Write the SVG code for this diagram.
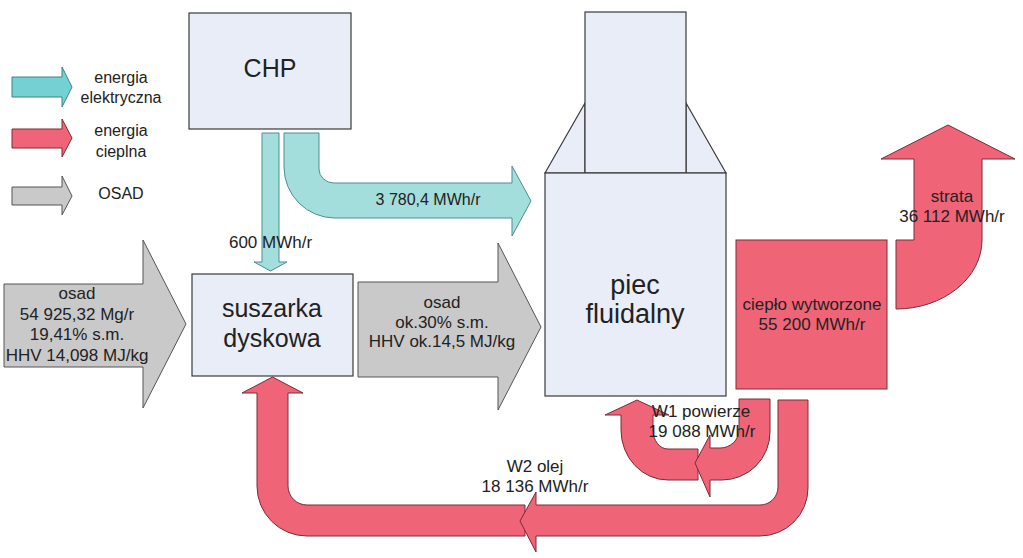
<svg xmlns="http://www.w3.org/2000/svg" width="1023" height="558" viewBox="0 0 1023 558">
<style>
text{font-family:"Liberation Sans",Arial,sans-serif;fill:#222;text-anchor:middle}
.box{fill:#e9edf8;stroke:#3a3a3a;stroke-width:1.2}
.teal{fill:#a3dedc;stroke:#4d8f8f;stroke-width:1}
.tealL{fill:#74d1d3;stroke:#3f8385;stroke-width:1}
.red{fill:#f06478;stroke:#7a2a36;stroke-width:1}
.gray{fill:#c9c9c9;stroke:#555;stroke-width:1}
.s16{font-size:16px}.s17{font-size:17px}.s25{font-size:25px}.s27{font-size:27px}
</style>
<rect width="1023" height="558" fill="#fff"/>
<g id="legend">
<path class="tealL" d="M12,77 H62 V67 L72,87 L62,107 V97 H12 Z"/>
<text class="s16" x="121" y="83">energia</text>
<text class="s16" x="121" y="103">elektryczna</text>
<path class="red" d="M12,129 H62 V119 L72,138 L62,157 V148 H12 Z"/>
<text class="s16" x="121" y="136">energia</text>
<text class="s16" x="121" y="157">cieplna</text>
<path class="gray" d="M12,187 H62 V176 L72,196 L62,215 V205 H12 Z"/>
<text class="s16" x="121" y="199">OSAD</text>
</g>
<g id="chp">
<rect class="box" x="189" y="13" width="162" height="116"/>
<text class="s25" x="270" y="77">CHP</text>
</g>
<g id="suszarka">
<rect class="box" x="192" y="274" width="161" height="102"/>
<text class="s25" x="272" y="317">suszarka</text>
<text class="s25" x="272" y="347">dyskowa</text>
</g>
<g id="piec">
<path class="box" d="M545,173 L585,103 V173 Z"/>
<path class="box" d="M726,173 L686,103 V173 Z"/>
<rect class="box" x="585" y="12" width="101" height="161"/>
<rect class="box" x="545" y="173" width="181" height="223"/>
<text class="s27" x="635" y="294">piec</text>
<text class="s27" x="635" y="323">fluidalny</text>
</g>
<g id="cieplo">
<rect class="red" x="736" y="240" width="151" height="149"/>
<text class="s17" x="812" y="310">ciepło wytworzone</text>
<text class="s17" x="812" y="330">55 200 MWh/r</text>
</g>
<g id="connectors">
<path class="gray" d="M4,284 H143 V240 L186,324 L143,408 V367 H4 Z"/>
<path class="gray" d="M358,282 H498 V243 L541,327 L498,410 V377 H358 Z"/>
<path class="teal" d="M262,133 H279 V262 H287 L270.5,271 L254,262 H262 Z"/>
<path class="teal" d="M284,133 H319 V169 A15,14 0 0 0 334,183 H512 V166 L531,201 L512,236 V218 H335 A51,51 0 0 1 284,167 Z"/>
<path class="red" d="M896,240 H914 V159 H881 L948,125 L1015,159 H982 V240 A86,69 0 0 1 896,309 Z"/>
<path class="red" d="M698,449 V480 H668 A47,50 0 0 1 621,430 V415 H605 L637,400 L669,415 H653 V430 A15,19 0 0 0 668,449 Z"/>
<path class="red" d="M739,399 H770 V432 A48,48 0 0 1 722,480 H710 V497 L695,463 L710,435 V448 H720 A19,18 0 0 0 739,430 Z"/>
<path class="red" d="M525,505 V536 H307 A50,50 0 0 1 257,486 V393 H242 L272.5,377 L303,393 H288 V486 A19,19 0 0 0 307,505 Z"/>
<path class="red" d="M778,400 H808 V488 A48,48 0 0 1 760,536 H536 V552 L520,521 L536,492 V505 H760 A18,18 0 0 0 778,487 Z"/>
<text class="s17" x="77" y="299">osad</text>
<text class="s17" x="77" y="320">54 925,32 Mg/r</text>
<text class="s17" x="77" y="340">19,41% s.m.</text>
<text class="s17" x="77" y="361">HHV 14,098 MJ/kg</text>
<text class="s17" x="442" y="308">osad</text>
<text class="s17" x="442" y="328">ok.30% s.m.</text>
<text class="s17" x="442" y="347">HHV ok.14,5 MJ/kg</text>
<text class="s17" x="270.5" y="248">600 MWh/r</text>
<text class="s16" x="428" y="205">3 780,4 MWh/r</text>
<text class="s17" x="952" y="202">strata</text>
<text class="s17" x="952" y="222">36 112 MWh/r</text>
<text class="s17" x="701" y="417">W1 powierze</text>
<text class="s17" x="702" y="437">19 088 MWh/r</text>
<text class="s17" x="535" y="472">W2 olej</text>
<text class="s17" x="535" y="492">18 136 MWh/r</text>
</g>
</svg>
